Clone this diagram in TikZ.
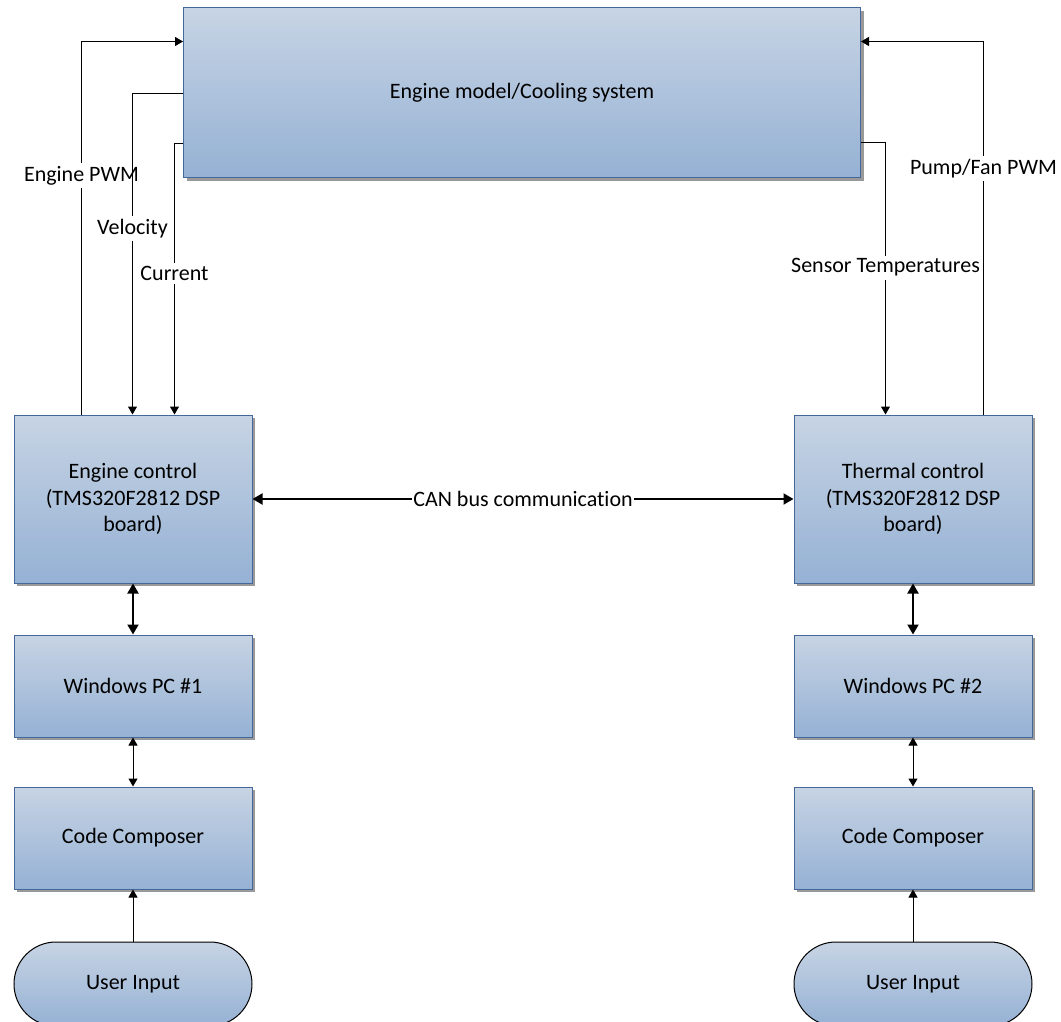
\documentclass[tikz,border=0pt]{standalone}
\usepackage{fontspec}
\setmainfont{Carlito}[Ligatures=NoCommon]
\usetikzlibrary{arrows.meta,calc,shadows,shapes.misc}

\definecolor{boxtop}{RGB}{199,212,228}
\definecolor{boxbottom}{RGB}{149,177,212}
\definecolor{boxline}{RGB}{68,104,153}

\tikzset{
	block/.style={draw=boxline, line width=0.5pt, top color=boxtop, bottom color=boxbottom,
		align=center, inner sep=0pt,
		drop shadow={shadow xshift=1.5pt, shadow yshift=-1.5pt, fill=black!40, opacity=1}},
	terminal/.style={draw=black, line width=0.5pt, top color=boxtop, bottom color=boxbottom,
		rounded rectangle, rounded rectangle arc length=180, inner sep=0pt},
	link/.style={line width=0.5pt, -{Triangle[length=4pt,width=4.5pt]}},
	duallink/.style={line width=0.5pt, {Triangle[length=4pt,width=4.5pt]}-{Triangle[length=4pt,width=4.5pt]}},
	buslink/.style={line width=1pt, {Triangle[length=5pt,width=5.5pt]}-{Triangle[length=5pt,width=5.5pt]}},
	lbl/.style={fill=white, inner xsep=0.5pt, inner ysep=1.5pt}
}

\begin{document}
\begin{tikzpicture}[x=0.5pt, y=-0.5pt, font=\fontsize{11}{13.4}\selectfont]

		\useasboundingbox (0,0) rectangle (1061,1022);
		\fill[white] (0,0) rectangle (1061,1022);

		% plant
		\node[block, minimum width=338.5pt, minimum height=85pt] (model) at (522,93) {Engine model/Cooling system};

		% left column
		\node[block, minimum width=119pt, minimum height=84pt] (enginectl) at (133,499) {Engine control\\(TMS320F2812 DSP\\board)};
		\node[block, minimum width=119pt, minimum height=51pt] (pcone) at (133,686) {Windows PC \#1};
		\node[block, minimum width=119pt, minimum height=51pt] (ccone) at (133,838) {Code Composer};
		\node[terminal, minimum width=119pt, minimum height=42pt] (userone) at (133,984) {User Input};

		% right column
		\node[block, minimum width=119pt, minimum height=84pt] (thermalctl) at (913,499) {Thermal control\\(TMS320F2812 DSP\\board)};
		\node[block, minimum width=119pt, minimum height=51pt] (pctwo) at (913,686) {Windows PC \#2};
		\node[block, minimum width=119pt, minimum height=51pt] (cctwo) at (913,838) {Code Composer};
		\node[terminal, minimum width=119pt, minimum height=42pt] (usertwo) at (913,984) {User Input};

		% signals to and from the plant
		\draw[link] ($(enginectl.north west)+(68,0)$) |- ($(model.north west)+(0,34)$)
			node[lbl, pos=0.32] {Engine PWM};
		\draw[link] ($(model.north west)+(0,86)$) -| ($(enginectl.north west)+(119,0)$)
			node[lbl, pos=0.71] {Velocity};
		\draw[link] ($(model.north west)+(0,136)$) -| ($(enginectl.north west)+(161,0)$)
			node[lbl, pos=0.74] {Current};
		\draw[link] ($(model.north east)+(0,135)$) -| ($(thermalctl.north west)+(92,0)$)
			node[lbl, pos=0.73] {Sensor Temperatures};
		\draw[link] ($(thermalctl.north west)+(190,0)$) |- ($(model.north east)+(0,34)$)
			node[lbl, pos=0.33] {Pump/Fan PWM};

		% CAN bus
		\draw[buslink] (enginectl.east) -- (thermalctl.west)
			node[lbl, midway] {CAN bus communication};

		% vertical chains
		\draw[buslink] (enginectl.south) -- (pcone.north);
		\draw[duallink] (pcone.south) -- (ccone.north);
		\draw[link] (userone.north) -- (ccone.south);
		\draw[buslink] (thermalctl.south) -- (pctwo.north);
		\draw[duallink] (pctwo.south) -- (cctwo.north);
		\draw[link] (usertwo.north) -- (cctwo.south);

	\end{tikzpicture}
\end{document}
